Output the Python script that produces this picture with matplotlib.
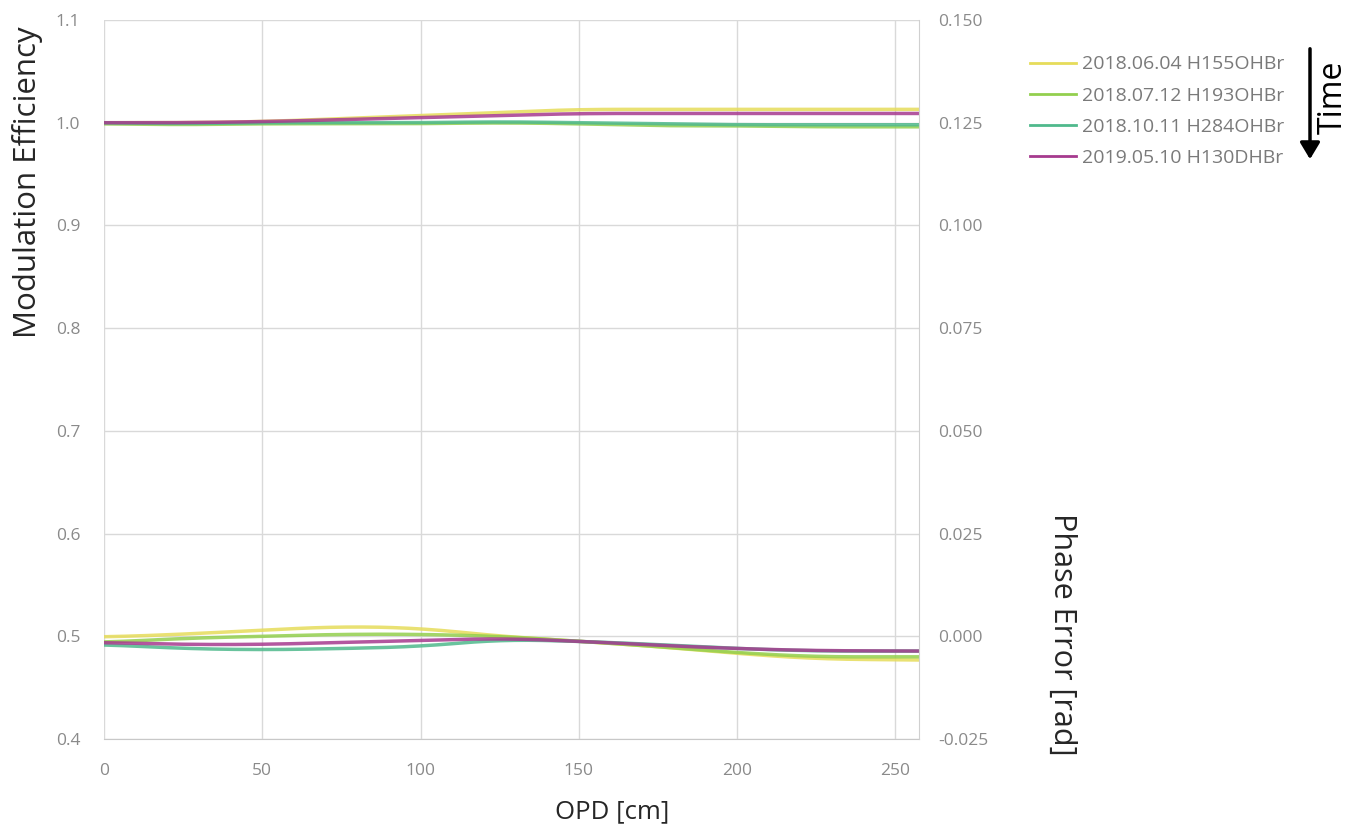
import matplotlib
matplotlib.use("Agg")
import matplotlib.pyplot as plt
import numpy as np

plt.rcParams['font.family'] = ['Open Sans', 'DejaVu Sans']

labels = ["2018.06.04 H155OHBr", "2018.07.12 H193OHBr", "2018.10.11 H284OHBr", "2019.05.10 H130DHBr"]
colors = ["#e6dc5a", "#93cf4e", "#4fb98c", "#a63a8e"]

opd = [0, 25, 50, 75, 100, 125, 150, 175, 200, 225, 257]

me_0604 = [1.000, 1.000, 1.001, 1.004, 1.007, 1.010, 1.013, 1.013, 1.013, 1.013, 1.013]
me_0712 = [0.999, 0.998, 0.999, 0.999, 0.999, 1.000, 0.999, 0.997, 0.997, 0.996, 0.996]
me_1011 = [1.000, 0.999, 1.000, 1.000, 1.000, 1.001, 1.000, 0.999, 0.998, 0.998, 0.998]
me_0510 = [1.000, 1.000, 1.001, 1.003, 1.005, 1.007, 1.009, 1.009, 1.009, 1.009, 1.009]

pe_0604 = [-0.0002, 0.0005, 0.0015, 0.0024, 0.0020, 0.0000, -0.0012, -0.0025, -0.0042, -0.0055, -0.0058]
pe_0712 = [-0.0015, -0.0005, 0.0000, 0.0005, 0.0005, 0.0000, -0.0012, -0.0025, -0.0040, -0.0050, -0.0050]
pe_1011 = [-0.0020, -0.0030, -0.0033, -0.0030, -0.0025, -0.0008, -0.0012, -0.0020, -0.0030, -0.0036, -0.0036]
pe_0510 = [-0.0015, -0.0020, -0.0020, -0.0015, -0.0010, -0.0005, -0.0012, -0.0022, -0.0030, -0.0035, -0.0036]

me_all = [me_0604, me_0712, me_1011, me_0510]
pe_all = [pe_0604, pe_0712, pe_1011, pe_0510]

left_ticks = [0.4, 0.5, 0.6, 0.7, 0.8, 0.9, 1.0, 1.1]
right_ticks = [-0.025, 0.0, 0.025, 0.05, 0.075, 0.1, 0.125, 0.15]
x_ticks = [0, 50, 100, 150, 200, 250]

fig = plt.figure(figsize=(13.5, 8.3), dpi=100)
ax = fig.add_axes([104/1350, 1-739/830, (919-104)/1350, (739-20)/830])
ax2 = ax.twinx()

def smooth(x, y):
    xs = np.linspace(min(x), max(x), 300)
    ys = np.interp(xs, x, y)
    k = 15
    pad = np.pad(ys, k, mode='edge')
    ys = np.convolve(pad, np.ones(2*k+1)/(2*k+1), mode='same')[k:-k]
    return xs, ys

handles = []
for lab, c, me, pe in zip(labels, colors, me_all, pe_all):
    xs, ys = smooth(opd, me)
    h, = ax.plot(xs, ys, color=c, lw=2.5, alpha=0.85, label=lab)
    handles.append(h)
    xs, ys = smooth(opd, pe)
    ax2.plot(xs, ys, color=c, lw=2.5, alpha=0.85)

ax.set_xlim(0, 257.5)
ax.set_ylim(0.4, 1.1)
ax2.set_ylim(-0.025, 0.15)
ax.set_xticks(x_ticks)
ax.set_yticks(left_ticks)
ax.set_yticklabels([f"{v:.1f}" for v in left_ticks])
ax2.set_yticks(right_ticks)
ax2.set_yticklabels([f"{v:.3f}" for v in right_ticks])

ax.grid(True, color="#d9d9d9", lw=1)
ax.set_axisbelow(True)
for a in (ax, ax2):
    for s in a.spines.values():
        s.set_visible(False)
    a.tick_params(length=0, labelsize=12.5, labelcolor="#8a8a8a")
ax2.spines['right'].set_visible(True)
ax2.spines['right'].set_color("#d0d0d0")
ax.spines['bottom'].set_visible(True)
ax.spines['bottom'].set_color("#c8c8c8")
ax.tick_params(axis='x', pad=17)
ax.tick_params(axis='y', pad=17)
ax2.tick_params(axis='y', pad=14)

fig.text(28/1350, 1-182/830, "Modulation Efficiency", rotation=90, ha='center', va='center',
         fontsize=22.5, color="#262626")
fig.text(612/1350, 1-812/830, "OPD [cm]", ha='center', va='center', fontsize=18.5, color="#262626")
fig.text(1062/1350, 1-634/830, "Phase Error [rad]", rotation=270, ha='center', va='center',
         fontsize=22, color="#262626")

leg = fig.legend(handles=handles, labels=labels, loc='upper left',
                 bbox_to_anchor=(1012/1350, 1-38/830), frameon=False,
                 fontsize=14, labelcolor="#7a7a7a", handlelength=2.4,
                 handletextpad=0.3, labelspacing=0.68)
for lh in leg.get_lines():
    lh.set_linewidth(2)
    lh.set_alpha(1)

fig.text(1333/1350, 1-97/830, "Time", rotation=90, ha='center', va='center',
         fontsize=23, color="#000000")
fig.patches.append(matplotlib.patches.FancyArrowPatch(
    (1310/1350, 1-46/830), (1310/1350, 1-162/830), transform=fig.transFigure,
    arrowstyle='-|>,head_length=10,head_width=6', color='black', lw=2.5, mutation_scale=1))

fig.savefig("out.png", dpi=100, facecolor="white")
